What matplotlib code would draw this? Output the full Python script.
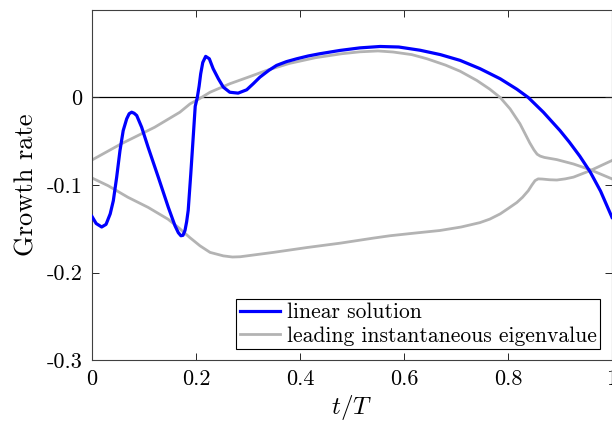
import matplotlib
matplotlib.use("Agg")
import matplotlib.pyplot as plt

# linear solution (blue)
t_lin = [0.000, 0.008, 0.0186, 0.027, 0.035, 0.041, 0.0474, 0.0538, 0.060, 0.0667,
         0.0715, 0.0763, 0.081, 0.086, 0.0955, 0.108, 0.1276, 0.1468, 0.1596, 0.166,
         0.171, 0.175, 0.1788, 0.182, 0.185, 0.190, 0.195, 0.1985, 0.2025, 0.206,
         0.209, 0.213, 0.2186, 0.2256, 0.233, 0.243, 0.2526, 0.265, 0.281, 0.2975,
         0.310, 0.323, 0.340, 0.355, 0.374, 0.394, 0.416, 0.438, 0.477, 0.515,
         0.554, 0.590, 0.631, 0.670, 0.708, 0.746, 0.785, 0.817, 0.839, 0.868,
         0.900, 0.918, 0.938, 0.958, 0.978, 1.000]
g_lin = [-0.136, -0.144, -0.148, -0.145, -0.133, -0.118, -0.0913, -0.0607, -0.0378, -0.0244,
         -0.0185, -0.0168, -0.0180, -0.0206, -0.034, -0.057, -0.0913, -0.1256, -0.1466, -0.1545,
         -0.158, -0.1575, -0.152, -0.142, -0.129, -0.087, -0.042, -0.010, 0.000, 0.013,
         0.027, 0.040, 0.047, 0.0443, 0.0329, 0.0214, 0.0118, 0.006, 0.005, 0.0088,
         0.0157, 0.0233, 0.031, 0.0367, 0.041, 0.0443, 0.0475, 0.050, 0.0538, 0.0567,
         0.0583, 0.0577, 0.054, 0.049, 0.0424, 0.033, 0.0214, 0.0095, 0.000, -0.0168,
         -0.0378, -0.051, -0.067, -0.085, -0.107, -0.137]

# leading instantaneous eigenvalue, branch starting at -0.071
t_eig_a = [0.000, 0.056, 0.1205, 0.169, 0.1885, 0.2077, 0.227, 0.265, 0.304, 0.336,
           0.380, 0.430, 0.480, 0.515, 0.550, 0.579, 0.615, 0.644, 0.680, 0.708,
           0.740, 0.765, 0.785, 0.804, 0.823, 0.842, 0.850, 0.856, 0.862, 0.870,
           0.894, 0.926, 0.958, 1.000]
g_eig_a = [-0.0714, -0.053, -0.034, -0.0168, -0.0073, -0.001, 0.006, 0.0157, 0.024, 0.031,
           0.039, 0.0455, 0.050, 0.0522, 0.0532, 0.052, 0.049, 0.0443, 0.037, 0.030,
           0.0195, 0.0095, 0.000, -0.013, -0.030, -0.052, -0.0600, -0.0648, -0.0670, -0.0685,
           -0.071, -0.076, -0.0825, -0.093]

# leading instantaneous eigenvalue, branch starting at -0.092
t_eig_b = [0.000, 0.031, 0.069, 0.108, 0.146, 0.166, 0.188, 0.2077, 0.227, 0.2526,
           0.270, 0.285, 0.349, 0.413, 0.477, 0.541, 0.573, 0.620, 0.669, 0.710,
           0.746, 0.765, 0.785, 0.800, 0.817, 0.828, 0.839, 0.846, 0.852, 0.858,
           0.866, 0.880, 0.894, 0.910, 0.926, 0.958, 1.000]
g_eig_b = [-0.092, -0.1008, -0.114, -0.1256, -0.139, -0.1485, -0.160, -0.1695, -0.177, -0.181,
           -0.1823, -0.182, -0.177, -0.1715, -0.1665, -0.1607, -0.158, -0.155, -0.152, -0.148,
           -0.143, -0.139, -0.133, -0.127, -0.120, -0.114, -0.1065, -0.100, -0.095, -0.093,
           -0.0932, -0.094, -0.0943, -0.093, -0.091, -0.0836, -0.072]

x_ticks = [0, 0.2, 0.4, 0.6, 0.8, 1]
x_labels = ["0", "0.2", "0.4", "0.6", "0.8", "1"]
y_ticks = [-0.3, -0.2, -0.1, 0]
y_labels = ["-0.3", "-0.2", "-0.1", "0"]

plt.rcParams['font.family'] = 'cmr10'
plt.rcParams['mathtext.fontset'] = 'cm'

fig = plt.figure(figsize=(6.12, 4.23), dpi=100)
ax = fig.add_axes([92 / 612, 1 - 360 / 423, 520 / 612, 350 / 423])

gray = '#b3b3b3'
ax.axhline(0, color='black', lw=0.9, zorder=1)
ax.plot(t_lin, g_lin, color='#0000ff', lw=2.3, label='linear solution', zorder=3,
        solid_joinstyle='round')
ax.plot(t_eig_a, g_eig_a, color=gray, lw=2.0, label='leading instantaneous eigenvalue',
        zorder=2, solid_joinstyle='round')
ax.plot(t_eig_b, g_eig_b, color=gray, lw=2.0, zorder=2, solid_joinstyle='round')

ax.set_xlim(0, 1)
ax.set_ylim(-0.3, 0.1)
ax.set_xticks(x_ticks)
ax.set_xticklabels(x_labels)
ax.set_yticks(y_ticks)
ax.set_yticklabels(y_labels)
ax.tick_params(direction='in', length=5, width=0.7, top=True, right=True,
               labelsize=16, color='#262626', pad=7)
for s in ax.spines.values():
    s.set_color('#404040')
    s.set_linewidth(0.8)

ax.set_xlabel('$t/T$', fontsize=18, labelpad=3)
ax.set_ylabel('Growth rate', fontsize=19, labelpad=6)

leg = ax.legend(loc='lower right', bbox_to_anchor=(0.977, 0.031), fontsize=15.5,
                fancybox=False, framealpha=1, edgecolor='black', borderpad=0.15,
                handlelength=1.9, handletextpad=0.3, labelspacing=0.2, borderaxespad=0)
leg.get_frame().set_linewidth(0.8)

fig.savefig('out.png', dpi=100)
